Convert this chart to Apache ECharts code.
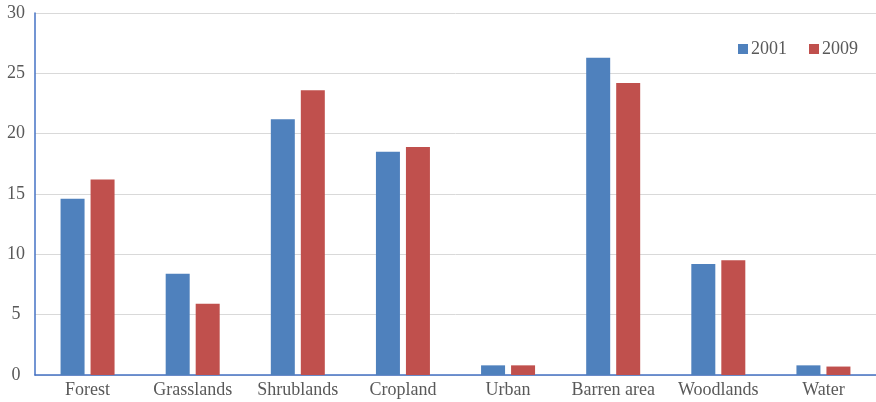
<!DOCTYPE html>
<html><head><meta charset="utf-8">
<script src="https://cdn.jsdelivr.net/npm/echarts@6/dist/echarts.min.js"></script>
<style>html,body{margin:0;padding:0;background:#fff}#c{width:876px;height:402px}</style>
</head><body><div id="c"></div>
<script>
const categories = ["Forest","Grasslands","Shrublands","Cropland","Urban","Barren area","Woodlands","Water"];
const values2001 = [14.6, 8.4, 21.2, 18.5, 0.8, 26.3, 9.2, 0.8];
const values2009 = [16.2, 5.9, 23.6, 18.9, 0.8, 24.2, 9.5, 0.7];
const seriesNames = ["2001","2009"];
const yTicks = {min:0, max:30, interval:5};

const font = "'Liberation Serif','Times New Roman',serif";
const chart = echarts.init(document.getElementById('c'), null, {renderer:'canvas'});
chart.setOption({
  animation:false,
  textStyle:{fontFamily:font},
  grid:{left:35, right:0, top:13, bottom:27, containLabel:false},
  legend:{
    data:seriesNames, right:13, top:35, itemWidth:10, itemHeight:10, itemGap:22,
    icon:'rect',
    textStyle:{fontFamily:font, fontSize:18, color:'#595959', padding:[0,0,0,-2]}
  },
  xAxis:{
    type:'category', data:categories,
    axisLine:{lineStyle:{color:'#4472c4', width:1.5}},
    axisTick:{show:false},
    axisLabel:{fontFamily:font, fontSize:18, color:'#595959', margin:6, interval:0, hideOverlap:false}
  },
  yAxis:{
    type:'value', min:yTicks.min, max:yTicks.max, interval:yTicks.interval,
    axisLine:{show:true, lineStyle:{color:'#4472c4', width:1.5}},
    axisTick:{show:false},
    splitLine:{lineStyle:{color:'#d9d9d9', width:1}},
    axisLabel:{fontFamily:font, fontSize:18, color:'#595959', margin:19, align:'center'}
  },
  series:[
    {name:seriesNames[0], type:'bar', data:values2001, barWidth:24, barGap:'25%',
     itemStyle:{color:'#4f81bd'}},
    {name:seriesNames[1], type:'bar', data:values2009, barWidth:24,
     itemStyle:{color:'#c0504d'}}
  ]
});
</script></body></html>
